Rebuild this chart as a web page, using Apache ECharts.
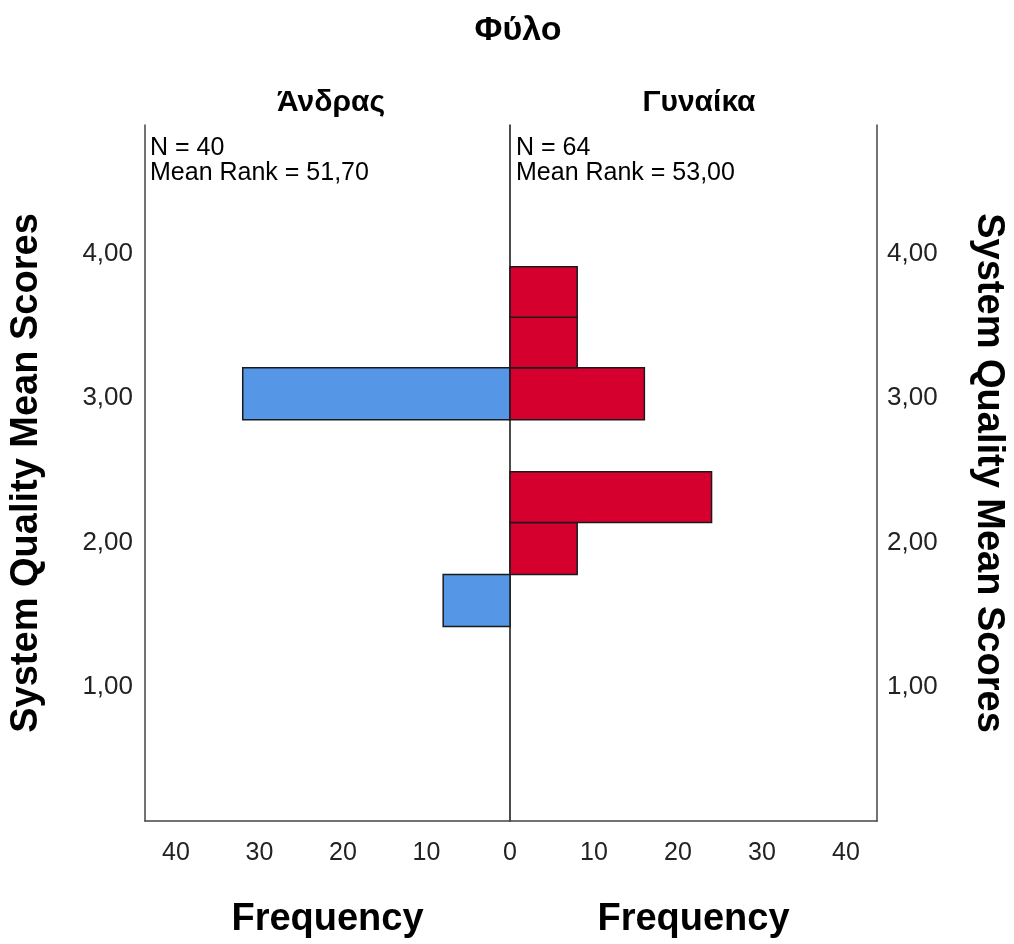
<!DOCTYPE html>
<html><head><meta charset="utf-8">
<script src="https://cdn.jsdelivr.net/npm/echarts@6/dist/echarts.min.js"></script>
<style>html,body{margin:0;padding:0;background:#fff}#c{width:1014px;height:944px}</style>
</head><body><div id="c"></div>
<script>
// ---- data ----
const binEdges = [1.42, 1.78, 2.14, 2.49, 2.85, 3.21, 3.56, 3.91];
const maleCounts = [8, 0, 0, 0, 32, 0, 0];
const femaleCounts = [0, 8, 24, 0, 16, 8, 8];
const xTicks = [0, 10, 20, 30, 40];
const yTicks = [1, 2, 3, 4];
const groupNames = ['Άνδρας', 'Γυναίκα'];
const statsText = ['N = 40\nMean Rank = 51,70', 'N = 64\nMean Rank = 53,00'];
const mainTitle = 'Φύλο';
const yName = 'System Quality Mean Scores';
const xName = 'Frequency';
const yRange = [0.074, 4.89];
const xMax = 43.7;

const FONT = "'Liberation Sans', Arial, sans-serif";
const toBins = counts => binEdges.slice(0, -1).map((lo, i) => [lo, binEdges[i + 1], counts[i]]).filter(d => d[2] > 0);
const lineStyle = { color: '#444', width: 1.5 };

function rectRenderer(color) {
  return function (params, api) {
    const lo = api.value(0), hi = api.value(1), c = api.value(2);
    const a = api.coord([0, lo]);
    const b = api.coord([c, hi]);
    return {
      type: 'rect',
      shape: { x: Math.min(a[0], b[0]), y: Math.min(a[1], b[1]), width: Math.abs(b[0] - a[0]), height: Math.abs(b[1] - a[1]) },
      style: { fill: color, stroke: '#1a1a1a', lineWidth: 1.5 }
    };
  };
}
const yFmt = v => yTicks.some(t => Math.abs(t - v) < 1e-6) ? v.toFixed(2).replace('.', ',') : '';
const xFmtL = v => (v !== 0 && xTicks.some(t => Math.abs(t - v) < 1e-6)) ? String(v) : '';
const xFmtR = v => xTicks.some(t => Math.abs(t - v) < 1e-6) ? String(v) : '';

const chart = echarts.init(document.getElementById('c'));
chart.setOption({
  backgroundColor: '#fff',
  animation: false,
  title: [
    { text: mainTitle, left: 513, textAlign: 'center', top: 9, textStyle: { fontFamily: FONT, fontSize: 34, fontWeight: 'bold', color: '#000' } },
    { text: groupNames[0], left: 326, textAlign: 'center', top: 83, textStyle: { fontFamily: FONT, fontSize: 30, fontWeight: 'bold', color: '#000' } },
    { text: groupNames[1], left: 694, textAlign: 'center', top: 83, textStyle: { fontFamily: FONT, fontSize: 30, fontWeight: 'bold', color: '#000' } },
    { text: statsText[0], left: 150, top: 136, padding: 0, textStyle: { fontFamily: FONT, fontSize: 25, fontWeight: 'normal', color: '#000', lineHeight: 25 } },
    { text: statsText[1], left: 516, top: 136, padding: 0, textStyle: { fontFamily: FONT, fontSize: 25, fontWeight: 'normal', color: '#000', lineHeight: 25 } }
  ],
  grid: [
    { left: 145, right: 504, top: 125, bottom: 122 },
    { left: 510, right: 137, top: 125, bottom: 122 }
  ],
  xAxis: [
    { gridIndex: 0, type: 'value', inverse: true, min: 0, max: xMax, interval: 10,
      axisLine: { show: true, onZero: false, lineStyle }, axisTick: { show: false }, splitLine: { show: false },
      axisLabel: { formatter: xFmtL, margin: 20, fontFamily: FONT, fontSize: 25, color: '#222' },
      name: xName, nameLocation: 'middle', nameGap: 80,
      nameTextStyle: { fontFamily: FONT, fontSize: 38, fontWeight: 'bold', color: '#000' } },
    { gridIndex: 1, type: 'value', min: 0, max: xMax, interval: 10,
      axisLine: { show: true, onZero: false, lineStyle }, axisTick: { show: false }, splitLine: { show: false },
      axisLabel: { formatter: xFmtR, margin: 20, fontFamily: FONT, fontSize: 25, color: '#222' },
      name: xName, nameLocation: 'middle', nameGap: 80,
      nameTextStyle: { fontFamily: FONT, fontSize: 38, fontWeight: 'bold', color: '#000' } }
  ],
  yAxis: [
    { gridIndex: 0, type: 'value', min: yRange[0], max: yRange[1], minInterval: 1, maxInterval: 1, position: 'left',
      axisLine: { show: true, onZero: false, lineStyle }, axisTick: { show: false }, splitLine: { show: false },
      axisLabel: { formatter: yFmt, margin: 12, fontFamily: FONT, fontSize: 26, color: '#222' },
      name: yName, nameLocation: 'middle', nameRotate: 90, nameGap: 99,
      nameTextStyle: { fontFamily: FONT, fontSize: 38, fontWeight: 'bold', color: '#000' } },
    { gridIndex: 0, type: 'value', min: yRange[0], max: yRange[1], minInterval: 1, maxInterval: 1, position: 'right',
      axisLine: { show: true, onZero: false, lineStyle: { color: '#111', width: 1.5 } }, axisTick: { show: false }, splitLine: { show: false },
      axisLabel: { show: false } },
    { gridIndex: 1, type: 'value', min: yRange[0], max: yRange[1], minInterval: 1, maxInterval: 1, position: 'right',
      axisLine: { show: true, onZero: false, lineStyle }, axisTick: { show: false }, splitLine: { show: false },
      axisLabel: { formatter: yFmt, margin: 10, fontFamily: FONT, fontSize: 26, color: '#222' },
      name: yName, nameLocation: 'middle', nameRotate: -90, nameGap: 92,
      nameTextStyle: { fontFamily: FONT, fontSize: 38, fontWeight: 'bold', color: '#000' } }
  ],
  series: [
    { type: 'custom', name: groupNames[0], xAxisIndex: 0, yAxisIndex: 0, renderItem: rectRenderer('#5596E6'),
      encode: { x: 2, y: [0, 1] }, data: toBins(maleCounts), z: 1 },
    { type: 'custom', name: groupNames[1], xAxisIndex: 1, yAxisIndex: 2, renderItem: rectRenderer('#D6002F'),
      encode: { x: 2, y: [0, 1] }, data: toBins(femaleCounts), z: 1 }
  ]
});
</script>
</body></html>
